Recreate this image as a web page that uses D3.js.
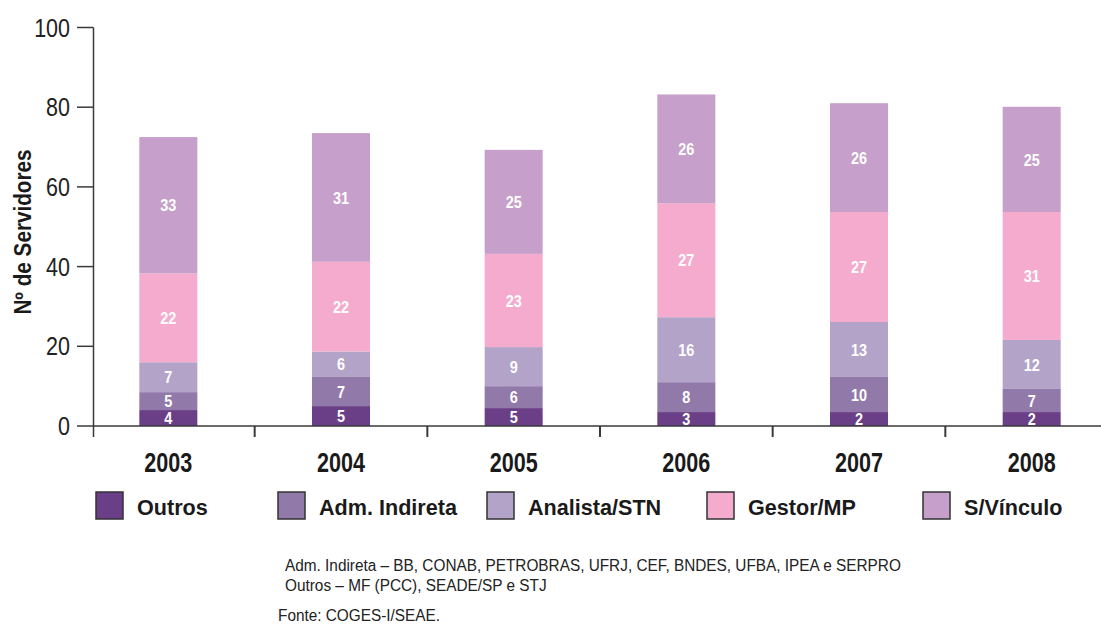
<!DOCTYPE html>
<html>
<head>
<meta charset="utf-8">
<script src="https://cdn.jsdelivr.net/npm/d3@7/dist/d3.min.js"></script>
<style>
  body { margin: 0; background: #fff; }
  svg text { font-family: 'Liberation Sans', Arial, sans-serif; }
</style>
</head>
<body>
<svg id="chart" width="1101" height="625"></svg>
<script>
const years = ['2003', '2004', '2005', '2006', '2007', '2008']
const seriesNames = ['Outros', 'Adm. Indireta', 'Analista/STN', 'Gestor/MP', 'S/Vínculo']
const seriesColors = ['#6a3f87', '#9179aa', '#b3a3c8', '#f5abcd', '#c69fca']

// segment heights
const outros = [4.0, 5.0, 4.5, 3.5, 3.5, 3.5]
const admIndireta = [4.5, 7.3, 5.5, 7.5, 8.8, 5.8]
const analistaSTN = [7.5, 6.4, 9.8, 16.3, 13.8, 12.3]
const gestorMP = [22.3, 22.5, 23.4, 28.6, 27.6, 32.1]
const semVinculo = [34.2, 32.3, 26.1, 27.3, 27.3, 26.4]

// numbers printed on the segments
const outrosLabels = [4, 5, 5, 3, 2, 2]
const admIndiretaLabels = [5, 7, 6, 8, 10, 7]
const analistaSTNLabels = [7, 6, 9, 16, 13, 12]
const gestorMPLabels = [22, 22, 23, 27, 27, 31]
const semVinculoLabels = [33, 31, 25, 26, 26, 25]

const yTicks = [0, 20, 40, 60, 80, 100]
const notes = [
  'Adm. Indireta – BB, CONAB, PETROBRAS, UFRJ, CEF, BNDES, UFBA, IPEA  e SERPRO',
  'Outros – MF (PCC), SEADE/SP e STJ'
]
const source = 'Fonte: COGES-I/SEAE.'

const seriesValues = [outros, admIndireta, analistaSTN, gestorMP, semVinculo]
const seriesLabels = [outrosLabels, admIndiretaLabels, analistaSTNLabels, gestorMPLabels, semVinculoLabels]

const rows = years.map((y, i) => {
  const row = { year: y }
  seriesNames.forEach((s, j) => { row[s] = seriesValues[j][i] })
  return row
})

const svg = d3.select('#chart')
const axisColor = '#3a3a3a'

// squeezed text placed at (tx, ty), to look like the condensed face
const place = (tx, ty, sx, rot) =>
  `translate(${tx}, ${ty})${rot ? ` rotate(${rot})` : ''} scale(${sx}, 1)`

const x = d3.scaleBand()
  .domain(years)
  .range([82, 1118])
  .paddingInner(0.664)
  .paddingOuter(0.332)

const y = d3.scaleLinear()
  .domain([0, 100])
  .range([426, 27.5])

const stacked = d3.stack().keys(seriesNames)(rows)

// bars
const layers = svg.append('g')
  .selectAll('g')
  .data(stacked)
  .join('g')
  .attr('fill', (d, i) => seriesColors[i])

layers.selectAll('rect')
  .data(d => d)
  .join('rect')
  .attr('x', d => x(d.data.year))
  .attr('width', x.bandwidth())
  .attr('y', d => y(d[1]))
  .attr('height', d => y(d[0]) - y(d[1]))

// segment labels
layers.each(function (layer, i) {
  d3.select(this).selectAll('text')
    .data(layer)
    .join('text')
    .attr('transform', d => place(x(d.data.year) + x.bandwidth() / 2, (y(d[0]) + y(d[1])) / 2 + 6.2, 0.85))
    .attr('text-anchor', 'middle')
    .attr('fill', '#fff')
    .attr('font-weight', 'bold')
    .attr('font-size', '17px')
    .text((d, j) => seriesLabels[i][j])
})

// y axis
svg.append('line')
  .attr('x1', 93.5).attr('x2', 93.5)
  .attr('y1', y(100)).attr('y2', 437)
  .attr('stroke', axisColor).attr('stroke-width', 1.5)

svg.append('g')
  .selectAll('line')
  .data(yTicks)
  .join('line')
  .attr('x1', 77).attr('x2', 93.5)
  .attr('y1', d => y(d)).attr('y2', d => y(d))
  .attr('stroke', axisColor).attr('stroke-width', 1.5)

svg.append('g')
  .selectAll('text')
  .data(yTicks)
  .join('text')
  .attr('transform', d => place(70, y(d) + 9, 0.86))
  .attr('text-anchor', 'end')
  .attr('font-size', '25px')
  .attr('fill', '#222')
  .text(d => d)

svg.append('text')
  .attr('transform', place(31, 232, 0.9, -90))
  .attr('text-anchor', 'middle')
  .attr('font-weight', 'bold')
  .attr('font-size', '23px')
  .attr('fill', '#1a1a1a')
  .text('Nº de Servidores')

// x axis
svg.append('line')
  .attr('x1', 93.5).attr('x2', 1101)
  .attr('y1', y(0)).attr('y2', y(0))
  .attr('stroke', axisColor).attr('stroke-width', 1.5)

const separators = years.slice(1).map(yr => x(yr) - x.step() * x.paddingInner() / 2)
svg.append('g')
  .selectAll('line')
  .data(separators)
  .join('line')
  .attr('x1', d => d).attr('x2', d => d)
  .attr('y1', y(0)).attr('y2', 437)
  .attr('stroke', axisColor).attr('stroke-width', 2)

svg.append('g')
  .selectAll('text')
  .data(years)
  .join('text')
  .attr('transform', d => place(x(d) + x.bandwidth() / 2, 472, 0.8))
  .attr('text-anchor', 'middle')
  .attr('font-weight', 'bold')
  .attr('font-size', '27px')
  .attr('fill', '#1a1a1a')
  .text(d => d)

// legend
const legendX = [96, 278, 487, 707, 923]
const legend = svg.append('g')
  .selectAll('g')
  .data(seriesNames)
  .join('g')
  .attr('transform', (d, i) => `translate(${legendX[i]}, 492)`)

legend.append('rect')
  .attr('width', 27).attr('height', 27)
  .attr('fill', (d, i) => seriesColors[i])
  .attr('stroke', '#333').attr('stroke-width', 1.5)

legend.append('text')
  .attr('transform', place(41, 23, 0.96))
  .attr('font-weight', 'bold')
  .attr('font-size', '22.5px')
  .attr('fill', '#1a1a1a')
  .text(d => d)

// notes
svg.append('g')
  .selectAll('text')
  .data(notes)
  .join('text')
  .attr('transform', (d, i) => place(285, 571 + i * 20, 0.96))
  .attr('font-size', '16px')
  .attr('fill', '#222')
  .text(d => d)

svg.append('text')
  .attr('transform', place(278, 621, 0.96))
  .attr('font-size', '16px')
  .attr('fill', '#222')
  .text(source)
</script>
</body>
</html>
